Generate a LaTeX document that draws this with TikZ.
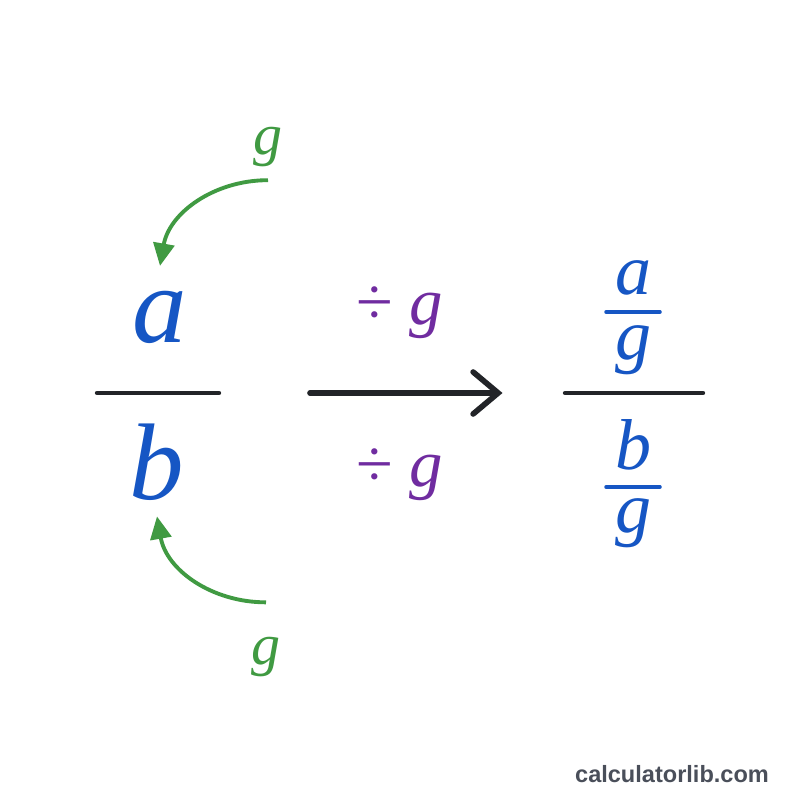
\documentclass[tikz,border=0pt]{standalone}
\usepackage{fontspec}
\usetikzlibrary{arrows.meta}
\newfontfamily\sitefont{Liberation Sans}
\newfontfamily\letterfont{Liberation Serif}

\definecolor{fracblue}{RGB}{22,86,196}
\definecolor{gcdgreen}{RGB}{64,154,66}
\definecolor{divpurple}{RGB}{112,44,160}
\definecolor{barblack}{RGB}{34,36,40}
\definecolor{sitegray}{RGB}{74,79,90}

\tikzset{
	bigletter/.style = {inner sep = 0, anchor = base, text = fracblue, font = \letterfont\itshape\fontsize{62}{62}\selectfont},
	smallletter/.style = {inner sep = 0, anchor = base, text = fracblue, font = \letterfont\itshape\fontsize{41}{41}\selectfont},
	gletter/.style = {inner sep = 0, anchor = base, text = gcdgreen, font = \letterfont\itshape\fontsize{33}{33}\selectfont},
	divletter/.style = {inner sep = 0, anchor = base, text = divpurple, font = \letterfont\fontsize{38}{38}\selectfont},
	fracbar/.style = {barblack, line width = 2.5pt, line cap = round},
	subbar/.style = {fracblue, line width = 2pt, line cap = round},
	greenarrow/.style = {gcdgreen, line width = 2.2pt, -{Triangle[length = 0.45cm, width = 0.42cm]}}
}

\begin{document}
\begin{tikzpicture}
	\fill[white] (0,0) rectangle (16,16);
	\useasboundingbox (0,0) rectangle (16,16);
	% left fraction
	\node [bigletter] (numa) at (3.2,9.15) {a};
	\node [bigletter] (denb) at (3.14,6.0) {b};
	\draw [fracbar] (1.94,8.14) -- (4.38,8.14);
	% the gcd going in
	\node [gletter] (gtop) at (5.36,12.9) {g};
	\node [gletter] (gbot) at (5.32,2.7) {g};
	\draw [greenarrow] ([yshift = -0.25cm]gtop.south) to [out = 180, in = 80] ([yshift = 0.5cm]numa.north);
	\draw [greenarrow] ([yshift = 0.7cm]gbot.north) to [out = 180, in = -80] ([yshift = -0.3cm]denb.south);
	% dividing step
	\node [divletter] (divtop) at (8.0,9.5) {÷ \textit{g}};
	\node [divletter] (divbot) at (8.0,6.26) {÷ \textit{g}};
	\coordinate (arrowstart) at (6.2,8.14);
	\coordinate (arrowend) at (10.05,8.14);
	\draw [barblack, line width = 3.2pt, line cap = round, -{Straight Barb[length = 0.5cm, width = 0.84cm, line cap = round]}] (arrowstart) -- (arrowend);
	% right fraction
	\node [smallletter] (righta) at (12.66,10.1) {a};
	\node [smallletter] (rightga) at (12.66,8.8) {g};
	\node [smallletter] (rightb) at (12.66,6.6) {b};
	\node [smallletter] (rightgb) at (12.66,5.34) {g};
	\draw [subbar] (12.12,9.76) -- (13.2,9.76);
	\draw [subbar] (12.12,6.26) -- (13.2,6.26);
	\draw [fracbar] (11.3,8.14) -- (14.06,8.14);
	% site name
	\node [inner sep = 0, anchor = base, text = sitegray, font = \sitefont\bfseries\fontsize{13.4}{13.4}\selectfont] (site) at (13.44,0.34) {calculatorlib.com};
\end{tikzpicture}
\end{document}
